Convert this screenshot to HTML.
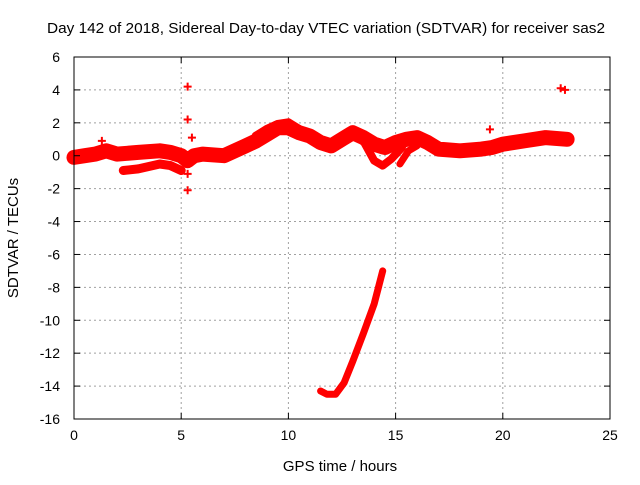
<!DOCTYPE html>
<html><head><meta charset="utf-8"><style>
body{margin:0;background:#fff}
svg text{font-family:"Liberation Sans",sans-serif;font-size:14px;fill:#000}
</style></head><body>
<svg id="chart" width="640" height="480" viewBox="0 0 640 480" xmlns="http://www.w3.org/2000/svg">
<rect width="640" height="480" fill="#fff"/>
<text x="326" y="33" text-anchor="middle" textLength="558" lengthAdjust="spacingAndGlyphs" style="font-size:15px">Day 142 of 2018, Sidereal Day-to-day VTEC variation (SDTVAR) for receiver sas2</text>
<text transform="translate(18,238) rotate(-90)" text-anchor="middle" style="font-size:15px">SDTVAR / TECUs</text>
<text x="340" y="471" text-anchor="middle" style="font-size:15px">GPS time / hours</text>
<g id="grid"></g><g id="marks"></g><g id="axes"></g>
</svg>
<script>
const xTicks=[0,5,10,15,20,25];
const yTicks=[6,4,2,0,-2,-4,-6,-8,-10,-12,-14,-16];
const mainT=[0,0.5,1,1.5,2,3,4,4.5,5,5.3,5.6,6,7,7.5,8,8.5,9,9.5,10,10.5,11,11.5,12,12.5,13,13.5,14,14.5,15,15.5,16,16.5,17,18,19,19.5,20,21,22,23];
const mainV=[-0.1,0,0.1,0.3,0.1,0.2,0.3,0.2,0,-0.3,0,0.1,0,0.3,0.6,0.9,1.3,1.7,1.7,1.4,1.2,0.8,0.6,1.0,1.4,1.1,0.7,0.5,0.8,1.0,1.1,0.8,0.4,0.3,0.4,0.5,0.7,0.9,1.1,1.0];
const lowT=[2.3,3,4,4.5,5];
const lowV=[-0.9,-0.8,-0.5,-0.6,-0.9];
const upT=[8.5,9,9.5,10,10.5];
const upV=[1.2,1.6,1.9,2.0,1.6];
const dipT=[13.5,14,14.4,14.8,15.3];
const dipV=[0.9,-0.3,-0.6,-0.2,0.5];
const dip2T=[15.2,15.6,16];
const dip2V=[-0.5,0.3,0.6];
const descT=[11.5,11.8,12.2,12.6,13,13.5,14,14.4];
const descV=[-14.3,-14.5,-14.5,-13.8,-12.5,-10.8,-9,-7];
const ptT=[5.3,5.3,5.3,5.3,22.7,22.9,1.3,2.3,5.5,19.4];
const ptV=[4.2,2.2,-1.1,-2.1,4.1,4.0,0.9,-0.9,1.1,1.6];
const X0=74,X1=610,Y0=57,Y1=419,xmin=0,xmax=25,ymin=-16,ymax=6;
const sx=v=>X0+(v-xmin)/(xmax-xmin)*(X1-X0);
const sy=v=>Y1-(v-ymin)/(ymax-ymin)*(Y1-Y0);
const NS="http://www.w3.org/2000/svg";
function mk(tag,attrs,parent){const e=document.createElementNS(NS,tag);for(const k in attrs)e.setAttribute(k,attrs[k]);parent.appendChild(e);return e;}
const grid=document.getElementById('grid'),marks=document.getElementById('marks'),axes=document.getElementById('axes');
xTicks.forEach(t=>{
 if(t>xmin&&t<xmax){const g=mk('line',{x1:sx(t),x2:sx(t),y1:Y0,y2:Y1,stroke:'#a0a0a0','stroke-dasharray':'2,3'},grid);
 
 }
 const l=mk('text',{x:sx(t),y:Y1+21,'text-anchor':'middle'},axes);l.textContent=t;
 
 
 mk('line',{x1:sx(t),x2:sx(t),y1:Y1,y2:Y1-6,stroke:'#000'},axes);
 mk('line',{x1:sx(t),x2:sx(t),y1:Y0,y2:Y0+6,stroke:'#000'},axes);
});
yTicks.forEach(t=>{
 if(t>ymin&&t<ymax){const g=mk('line',{x1:X0,x2:X1,y1:sy(t),y2:sy(t),stroke:'#a0a0a0','stroke-dasharray':'2,3'},grid);
 
 }
 const l=mk('text',{x:X0-14,y:sy(t)+5,'text-anchor':'end'},axes);l.textContent=t;
 
 
 mk('line',{x1:X0,x2:X0+6,y1:sy(t),y2:sy(t),stroke:'#000'},axes);
 mk('line',{x1:X1,x2:X1-6,y1:sy(t),y2:sy(t),stroke:'#000'},axes);
});
const fr=mk('rect',{x:X0,y:Y0,width:X1-X0,height:Y1-Y0,fill:'none',stroke:'#000'},axes);


function track(T,V,w,name){
 const d=T.map((t,i)=>(i?'L':'M')+sx(t).toFixed(1)+','+sy(V[i]).toFixed(1)).join('');
 const p=mk('path',{d:d,fill:'none',stroke:'#f00','stroke-width':w,'stroke-linejoin':'round','stroke-linecap':'round'},marks);
 
 
}
track(mainT,mainV,15,'sdtvar-main-band');
track(lowT,lowV,9,'sdtvar-lower-loop');
track(upT,upV,9,'sdtvar-upper-loop');
track(dipT,dipV,8,'sdtvar-dip');
track(dip2T,dip2V,7,'sdtvar-dip-2');
track(descT,descV,7,'sdtvar-descent');
ptT.forEach((t,i)=>{
 const x=sx(t),y=sy(ptV[i]);
 const p=mk('path',{d:`M${x-4},${y}H${x+4}M${x},${y-4}V${y+4}`,stroke:'#f00','stroke-width':2},marks);
 
 
});
</script>
</body></html>
